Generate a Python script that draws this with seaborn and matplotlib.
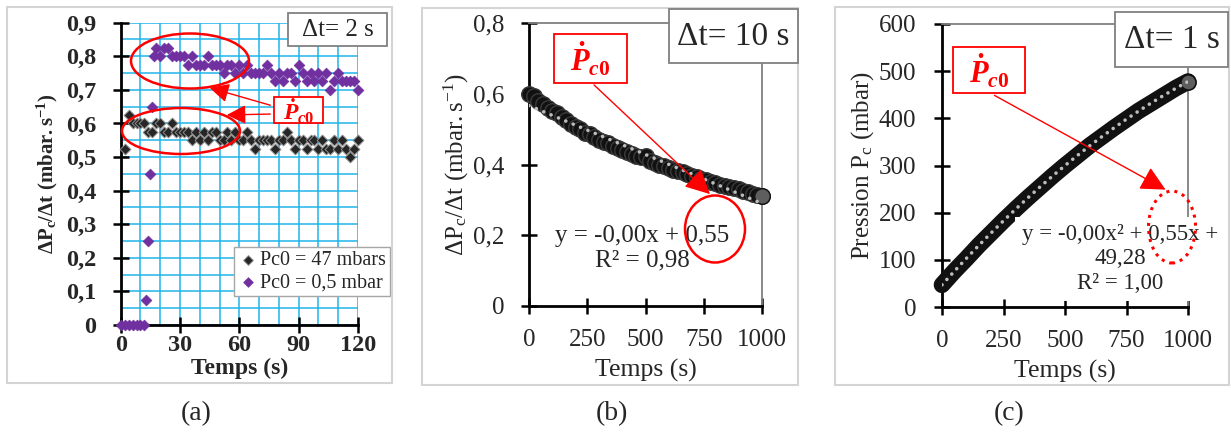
import numpy as np
import pandas as pd
import matplotlib
matplotlib.use('Agg')
import matplotlib.pyplot as plt
import seaborn as sns
from matplotlib.patches import Rectangle, Ellipse, FancyArrowPatch
from matplotlib.ticker import FuncFormatter, MultipleLocator

# (a) dP/dt, delta t = 2 s
black_time = np.arange(2, 121, 2)
black_val = [0.525, 0.625, 0.6, 0.6, 0.6, 0.6, 0.575, 0.575, 0.6, 0.6,
             0.575, 0.575, 0.6, 0.575, 0.575, 0.575, 0.575, 0.55, 0.575, 0.55,
             0.575, 0.55, 0.575, 0.575, 0.55, 0.55, 0.575, 0.55, 0.575, 0.55,
             0.55, 0.575, 0.55, 0.525, 0.55, 0.55, 0.55, 0.55, 0.525, 0.55,
             0.55, 0.575, 0.55, 0.525, 0.55, 0.55, 0.525, 0.55, 0.55, 0.525,
             0.55, 0.525, 0.525, 0.55, 0.525, 0.55, 0.525, 0.5, 0.525, 0.55]
purple_time = np.concatenate([[0, 2, 4, 6, 8, 10, 12, 13, 14, 15, 16, 17],
                              np.arange(18, 121, 2)])
purple_val = [0, 0, 0, 0, 0, 0, 0, 0.075, 0.25, 0.45, 0.65, 0.8,
              0.825, 0.8, 0.825, 0.825, 0.8, 0.8, 0.8, 0.8, 0.775, 0.8,
              0.775, 0.775, 0.775, 0.8, 0.775, 0.775, 0.775,
              0.75, 0.775, 0.775, 0.75, 0.775, 0.75, 0.775, 0.75, 0.75, 0.75,
              0.75, 0.775, 0.75, 0.725, 0.75, 0.725, 0.75,
              0.75, 0.725, 0.775, 0.75, 0.725, 0.75, 0.725, 0.75, 0.725, 0.75,
              0.7, 0.725, 0.75, 0.725, 0.725, 0.725, 0.725, 0.7]

# (b) dP/dt, delta t = 10 s
b_time = np.arange(0, 1001, 20)
b_val = [0.60, 0.595, 0.58, 0.57, 0.56, 0.55, 0.545, 0.535, 0.525, 0.515,
         0.505, 0.50, 0.49, 0.485, 0.478, 0.47, 0.465, 0.46, 0.452, 0.447,
         0.44, 0.435, 0.43, 0.425, 0.42, 0.425, 0.41, 0.405, 0.40, 0.395,
         0.39, 0.385, 0.382, 0.378, 0.372, 0.368, 0.365, 0.36, 0.355, 0.35,
         0.347, 0.343, 0.34, 0.337, 0.333, 0.33, 0.326, 0.322, 0.318, 0.315,
         0.31]

# (c) pressure, delta t = 1 s
c_time = np.arange(0, 1001, 50)
c_val = [47, 76, 103, 131, 157, 183, 208, 232, 255, 278, 300,
         321, 342, 361, 380, 398, 416, 432, 448, 464, 478]

W, H = 1231, 432

sns.set_theme(style='white')
plt.rcParams['font.family'] = ['Liberation Serif', 'DejaVu Serif']
plt.rcParams['mathtext.fontset'] = 'custom'
plt.rcParams['mathtext.it'] = 'Liberation Serif:bold:italic'
plt.rcParams['mathtext.rm'] = 'Liberation Serif:bold'
plt.rcParams['mathtext.bf'] = 'Liberation Serif:bold'


def fp(x, y):
    # pixel position (from top left) -> figure fraction
    return x / W, 1 - y / H


def comma(v, pos):
    return f'{v:g}'.replace('.', ',')


def box(fig, x0, y0, x1, y1, color, lw=1.3, fill=True):
    r = Rectangle(fp(x0, y1), (x1 - x0) / W, (y1 - y0) / H, transform=fig.transFigure,
                  facecolor='white' if fill else 'none', edgecolor=color, lw=lw, zorder=2)
    fig.add_artist(r)


def ellipse(fig, cx, cy, w, h, ls='-', lw=1.8):
    e = Ellipse(fp(cx, cy), w / W, h / H, transform=fig.transFigure, fill=False,
                edgecolor='red', lw=lw, linestyle=ls, zorder=4)
    fig.add_artist(e)


def arrow(fig, p0, p1, scale=16):
    a = FancyArrowPatch(fp(*p0), fp(*p1), transform=fig.transFigure,
                        arrowstyle='-|>,head_length=0.9,head_width=0.45',
                        mutation_scale=scale, color='red', lw=1.0, zorder=4)
    fig.add_artist(a)


def style_axes(ax, labelsize, pad_x, pad_y, bold=False):
    for s in ['left', 'bottom']:
        ax.spines[s].set_color('black')
        ax.spines[s].set_linewidth(2)
    ax.tick_params(which='major', direction='inout', length=11, width=1.8,
                   color='black', labelsize=labelsize, left=True, bottom=True)
    ax.tick_params(axis='x', pad=pad_x)
    ax.tick_params(axis='y', pad=pad_y)
    ax.tick_params(which='minor', length=0)
    ax.xaxis.set_major_formatter(FuncFormatter(comma))
    ax.yaxis.set_major_formatter(FuncFormatter(comma))
    if bold:
        for lbl in ax.get_xticklabels() + ax.get_yticklabels():
            lbl.set_fontweight('bold')


fig = plt.figure(figsize=(W / 100, H / 100), dpi=100)

# ---------- panel (a) ----------
axa = fig.add_axes([120.7 / W, 1 - 325 / H, 237.3 / W, 302.3 / H])
df_black = pd.DataFrame({'t': black_time, 'v': black_val})
df_purple = pd.DataFrame({'t': purple_time, 'v': purple_val})
sns.scatterplot(data=df_black, x='t', y='v', ax=axa, marker='D', s=30,
                color='#262626', edgecolor='#8c8c8c', linewidth=0.7,
                label='Pc0 = 47 mbars', zorder=3, clip_on=False)
sns.scatterplot(data=df_purple, x='t', y='v', ax=axa, marker='D', s=30,
                color='#7030A0', edgecolor='#7030A0', linewidth=0.5,
                label='Pc0 = 0,5 mbar', zorder=3, clip_on=False)
axa.set_xlim(0, 120)
axa.set_ylim(0, 0.9)
axa.set_xticks([0, 30, 60, 90, 120])
axa.set_yticks(np.arange(0, 0.91, 0.1))
axa.xaxis.set_minor_locator(MultipleLocator(10))
axa.yaxis.set_minor_locator(MultipleLocator(0.05))
axa.grid(which='both', color='#1fb4ea', lw=1.1)
axa.set_axisbelow(True)
axa.spines['top'].set_visible(False)
axa.spines['right'].set_visible(False)
style_axes(axa, 17.5, 2, 12, bold=True)
axa.set_xlabel('Temps (s)', fontsize=17, fontweight='bold', labelpad=1)
axa.set_ylabel(r'$\mathregular{ΔP_c/Δt\ (mbar.s^{-1})}$', fontsize=15,
               fontweight='bold', labelpad=4)
leg = axa.legend(loc='upper right', bbox_to_anchor=(1.135, 0.258), fontsize=14.5,
                 frameon=True, fancybox=False, edgecolor='#a6a6a6', framealpha=1,
                 handletextpad=0.1, borderpad=0.2, labelspacing=0.15,
                 handlelength=1.0, borderaxespad=0, markerscale=0.9)
leg.get_frame().set_linewidth(1.0)

# ---------- panel (b) ----------
axb = fig.add_axes([529 / W, 1 - 306 / H, 233 / W, 283 / H])
df_b = pd.DataFrame({'t': b_time, 'v': b_val})
sns.scatterplot(data=df_b, x='t', y='v', ax=axb, s=125, color='#111111',
                edgecolor='#3a3a3a', linewidth=1.0, zorder=3, clip_on=False)
axb.scatter(b_time[-1:], b_val[-1:], s=125, color='#5e5e5e', edgecolor='#111111',
            lw=1.0, zorder=4, clip_on=False)
fit_b = np.polyfit(b_time, b_val, 1)
axb.plot(b_time, np.polyval(fit_b, b_time), color='#bdbdbd', lw=2.6,
         linestyle=(0, (0.01, 2.2)), dash_capstyle='round', zorder=5)
axb.set_xlim(0, 1000)
axb.set_ylim(0, 0.8)
axb.set_xticks([0, 250, 500, 750, 1000])
axb.set_yticks([0, 0.2, 0.4, 0.6, 0.8])
for s in ['top', 'right']:
    axb.spines[s].set_color('#808080')
    axb.spines[s].set_linewidth(1.3)
style_axes(axb, 18, 11, 12)
axb.set_xlabel('Temps (s)', fontsize=18.5, labelpad=6)
axb.set_ylabel(r'$\mathregular{ΔP_c/Δt\ (mbar.s^{-1})}$', fontsize=18, labelpad=2)

# ---------- panel (c) ----------
axc = fig.add_axes([942 / W, 1 - 307 / H, 246 / W, 283 / H])
df_c = pd.DataFrame({'t': c_time, 'v': c_val})
sns.lineplot(data=df_c, x='t', y='v', ax=axc, color='#111111', lw=12,
             solid_capstyle='round', zorder=3, clip_on=False)
axc.scatter(c_time[-1:], c_val[-1:], s=120, color='#5e5e5e', edgecolor='#111111',
            lw=1.2, zorder=4, clip_on=False)
fit_c = np.polyfit(c_time, c_val, 2)
axc.plot(c_time, np.polyval(fit_c, c_time), color='#bdbdbd', lw=2.6,
         linestyle=(0, (0.01, 2.0)), dash_capstyle='round', zorder=5)
axc.set_xlim(0, 1000)
axc.set_ylim(0, 600)
axc.set_xticks([0, 250, 500, 750, 1000])
axc.set_yticks(np.arange(0, 601, 100))
for s in ['top', 'right']:
    axc.spines[s].set_color('#808080')
    axc.spines[s].set_linewidth(1.3)
style_axes(axc, 18, 11, 13)
axc.set_xlabel('Temps (s)', fontsize=18.5, labelpad=6)
axc.set_ylabel(r'$\mathregular{Pression\ P_c\ (mbar)}$', fontsize=18, labelpad=2)

# ---------- panel frames ----------
box(fig, 7, 7, 392, 383, '#d4d4d4', lw=1.5, fill=False)
box(fig, 422, 8, 798, 385, '#d4d4d4', lw=1.5, fill=False)
box(fig, 835, 7, 1229, 385, '#d4d4d4', lw=1.5, fill=False)

# ---------- annotations (a) ----------
box(fig, 288, 13, 387, 46, '#808080')
fig.text(*fp(337.5, 30), 'Δt= 2 s', fontsize=18, ha='center', va='center')
ellipse(fig, 190, 61, 118, 55)
ellipse(fig, 181, 131, 118, 46)
box(fig, 274, 97, 323, 123, 'red')
fig.text(*fp(298.5, 111), r'$\dot{P}_{c0}$', fontsize=17, color='red',
         ha='center', va='center')
arrow(fig, (273, 106), (207, 87), scale=13)
arrow(fig, (273, 114), (224, 115), scale=13)

# ---------- annotations (b) ----------
box(fig, 669, 9, 798, 63, '#808080')
fig.text(*fp(733.5, 37), 'Δt= 10 s', fontsize=24, ha='center', va='center')
box(fig, 554, 34, 627, 83, 'red')
fig.text(*fp(590, 59), r'$\dot{P}_{c0}$', fontsize=22, color='red',
         ha='center', va='center')
arrow(fig, (592, 83), (712, 196), scale=17)
fig.text(*fp(642.5, 248), 'y = -0,00x + 0,55\nR² = 0,98', fontsize=18,
         ha='center', va='center', linespacing=1.15)
ellipse(fig, 715, 229, 60, 67)

# ---------- annotations (c) ----------
box(fig, 1115, 12, 1228, 67, '#808080')
fig.text(*fp(1171.5, 40), 'Δt= 1 s', fontsize=24, ha='center', va='center')
box(fig, 953, 47, 1025, 93, 'red')
fig.text(*fp(989, 71), r'$\dot{P}_{c0}$', fontsize=22, color='red',
         ha='center', va='center')
fig.text(*fp(1120, 259), 'y = -0,00x² + 0,55x +\n49,28\nR² = 1,00', fontsize=16.5,
         ha='center', va='center', linespacing=1.2,
         bbox=dict(facecolor='white', edgecolor='none', pad=5))
arrow(fig, (992, 94), (1168, 191), scale=17)
ellipse(fig, 1172, 227, 47, 72, ls=':', lw=2.2)

# ---------- captions ----------
for x, lab in [(196, '(a)'), (612, '(b)'), (1009, '(c)')]:
    fig.text(*fp(x, 414), lab, fontsize=20, ha='center', va='center')

fig.savefig('out.png', dpi=100)
